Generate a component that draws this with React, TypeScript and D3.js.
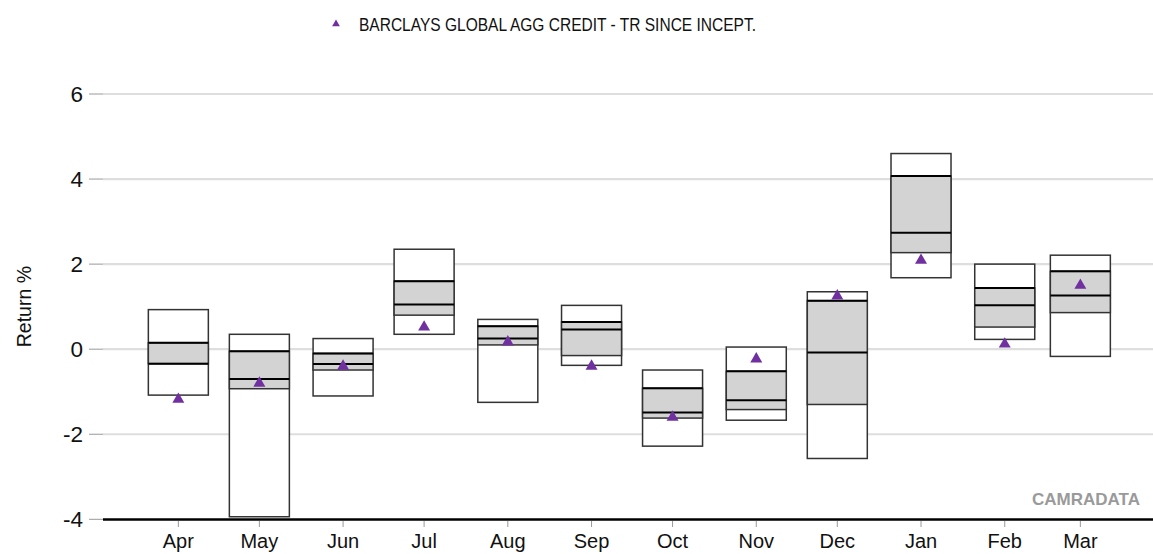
import React from 'react';
import * as d3 from 'd3';

// months (first of month, 2014/15 — Feb has 28 days)
const months = ['Apr', 'May', 'Jun', 'Jul', 'Aug', 'Sep', 'Oct', 'Nov', 'Dec', 'Jan', 'Feb', 'Mar'];
const monthDates = [
  '2014-04-01', '2014-05-01', '2014-06-01', '2014-07-01', '2014-08-01', '2014-09-01',
  '2014-10-01', '2014-11-01', '2014-12-01', '2015-01-01', '2015-02-01', '2015-03-01',
];

// percentile bands
const p95 = [0.93, 0.35, 0.25, 2.35, 0.70, 1.03, -0.49, 0.05, 1.35, 4.60, 2.00, 2.21];
const p75 = [0.15, -0.05, -0.10, 1.60, 0.54, 0.64, -0.92, -0.52, 1.14, 4.07, 1.44, 1.83];
const median = [-0.34, -0.70, -0.35, 1.05, 0.25, 0.46, -1.49, -1.20, -0.08, 2.74, 1.03, 1.26];
const p25 = [-0.34, -0.93, -0.49, 0.80, 0.10, -0.15, -1.62, -1.42, -1.30, 2.27, 0.52, 0.86];
const p5 = [-1.08, -3.94, -1.10, 0.35, -1.25, -0.38, -2.28, -1.67, -2.57, 1.68, 0.23, -0.17];

// benchmark
const benchmarkName = 'BARCLAYS GLOBAL AGG CREDIT - TR SINCE INCEPT.';
const benchmark = [-1.18, -0.80, -0.40, 0.52, 0.17, -0.40, -1.60, -0.23, 1.25, 2.09, 0.12, 1.50];

const yTicks = [-4, -2, 0, 2, 4, 6];

export default function App() {
  const width = 1153;
  const height = 554;
  const left = 103;
  const right = 1153;
  const dayMs = 24 * 3600 * 1000;

  const dates = monthDates.map(d => new Date(d + 'T00:00:00Z'));
  const x = d3.scaleUtc()
    .domain([new Date(+dates[0] - 27.9 * dayMs), new Date(+dates[11] + 26.9 * dayMs)])
    .range([left, right]);

  const y = d3.scaleLinear().domain([-4, 6]).range([519.3, 94]);

  const boxW = 60;
  const purple = '#7030a0';
  const tri = d3.symbol().type(d3.symbolTriangle).size(62)();
  const triSmall = d3.symbol().type(d3.symbolTriangle).size(26)();
  const font = '"Liberation Sans", Arial, sans-serif';

  return (
    <svg width={width} height={height} style={{ position: 'absolute', left: 0, top: 0 }} fontFamily={font}>
      <rect width={width} height={height} fill="#fff" />

      {/* legend */}
      <path d={triSmall} transform="translate(336,24)" fill={purple} />
      <text x={359} y={30.5} fontSize={18} textLength={397} lengthAdjust="spacingAndGlyphs" fill="#111">
        {benchmarkName}
      </text>

      {/* grid + y axis */}
      {yTicks.map(t => (
        <g key={t}>
          {t !== -4 && (
            <line x1={left} x2={right} y1={y(t)} y2={y(t)} stroke="#dedede" strokeWidth={2.2} />
          )}
          <line x1={89} x2={left} y1={y(t)} y2={y(t)} stroke="#999" strokeWidth={1} />
          <text x={83} y={y(t)} dy="0.36em" textAnchor="end" fontSize={22.5} fill="#111">
            {t}
          </text>
        </g>
      ))}
      <text
        transform={`translate(31,${y(1.0)}) rotate(-90)`}
        textAnchor="middle"
        fontSize={19.5}
        fill="#111"
      >
        Return %
      </text>

      {/* boxes */}
      {months.map((m, i) => {
        const cx = x(dates[i]);
        const x0 = cx - boxW / 2;
        return (
          <g key={m}>
            <rect x={x0} y={y(p95[i])} width={boxW} height={y(p5[i]) - y(p95[i])}
              fill="#fff" stroke="#333" strokeWidth={1.5} />
            <rect x={x0} y={y(p75[i])} width={boxW} height={y(p25[i]) - y(p75[i])}
              fill="#d3d3d3" stroke="#333" strokeWidth={1.5} />
            <line x1={x0} x2={x0 + boxW} y1={y(p75[i])} y2={y(p75[i])} stroke="#000" strokeWidth={2} />
            <line x1={x0} x2={x0 + boxW} y1={y(median[i])} y2={y(median[i])} stroke="#000" strokeWidth={2} />
            <path d={tri} transform={`translate(${cx},${y(benchmark[i])})`} fill={purple} />
          </g>
        );
      })}

      {/* x axis */}
      <line x1={left} x2={right} y1={519.5} y2={519.5} stroke="#000" strokeWidth={2.5} />
      {months.map((m, i) => (
        <g key={'t' + m}>
          <line x1={x(dates[i])} x2={x(dates[i])} y1={521} y2={527} stroke="#999" strokeWidth={1} />
          <text x={x(dates[i])} y={548} textAnchor="middle" fontSize={20} fill="#111">
            {m}
          </text>
        </g>
      ))}

      <text x={1140} y={505} textAnchor="end" fontSize={17} fontWeight="bold" fill="#9a9a9a">
        CAMRADATA
      </text>
    </svg>
  );
}
